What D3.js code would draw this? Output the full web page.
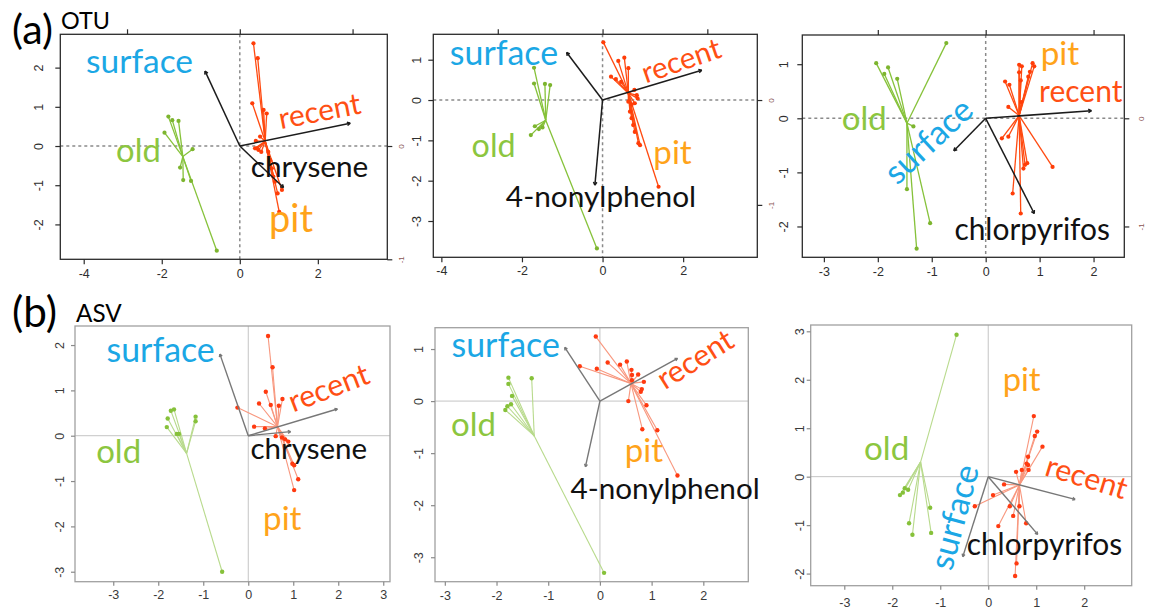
<!DOCTYPE html>
<html>
<head>
<meta charset="utf-8">
<script src="https://cdn.jsdelivr.net/npm/d3@7"></script>
<style>
  body { margin: 0; background: #fff; }
  svg { display: block; }
</style>
</head>
<body>
<svg id="chart" width="1149" height="610"></svg>
<script>
// ---------------------------------------------------------------
// Site scores, group centroids and environmental vectors
// (a) OTU ordinations
// ---------------------------------------------------------------
const otuChryseneOld = [[-1.83,0.75],[-1.73,0.66],[-1.57,0.64],[-1.93,0.34],[-1.21,-0.08],[-1.53,-0.55],[-1.45,-0.87],[-1.25,-0.89],[-0.59,-2.67]];
const otuChryseneOldCentre = [-1.46,-0.27];
const otuChryseneRecent = [[0.35,2.62],[0.46,2.24],[0.32,1.09],[0.61,0.92],[0.69,0.83],[0.41,0.13],[0.52,0.24],[0.39,-0.06],[0.44,-0.06],[0.48,-0.10],[0.55,-0.15],[0.73,-0.15],[0.78,-0.36],[0.82,-0.57],[0.86,-0.78],[0.90,-0.91],[0.97,-1.21],[1.08,-1.12],[1.01,-1.68]];
const otuChryseneRecentCentre = [0.65,0.12];
const otuChryseneVectors = [["surface",-0.89,1.91],["recent",2.83,0.58],["chrysene",1.12,-1.06]];
const otuChryseneXTicks = [-4,-2,0,2];
const otuChryseneYTicks = [-2,-1,0,1,2];

const otuNonylOld = [[-1.70,0.80],[-1.70,0.41],[-1.43,0.40],[-1.30,0.37],[-1.68,-0.65],[-1.58,-0.72],[-1.49,-0.68],[-1.78,-0.87],[-0.14,-3.68]];
const otuNonylOldCentre = [-1.41,-0.50];
const otuNonylRecent = [[0.02,1.43],[0.54,1.05],[0.39,0.97],[0.64,0.79],[0.21,0.58],[0.33,0.52],[0.46,0.45],[0.79,0.25],[0.85,0.12],[0.87,0.04],[0.80,-0.08],[0.72,-0.11],[0.64,-0.04],[0.68,-0.29],[0.72,-0.45],[0.76,-0.62],[0.80,-0.79],[0.89,-1.07],[0.93,-1.12],[1.39,-2.15]];
const otuNonylRecentCentre = [0.64,0.17];
const otuNonylVectors = [["surface",-0.89,1.18],["recent",2.46,0.74],["4-nonylphenol",-0.19,-2.11]];
const otuNonylXTicks = [-4,-2,0,2];
const otuNonylYTicks = [-3,-2,-1,0,1];

const otuChlorOld = [[-0.73,1.39],[-2.03,1.02],[-1.81,0.94],[-1.88,0.82],[-1.64,0.73],[-1.34,-0.15],[-1.46,-1.31],[-1.03,-1.94],[-1.28,-2.41]];
const otuChlorOldCentre = [-1.46,-0.09];
const otuChlorRecent = [[0.62,0.99],[0.67,0.96],[0.87,1.02],[0.90,0.96],[0.82,0.86],[0.79,0.77],[0.36,0.68],[0.44,0.62],[0.62,0.85],[0.65,0.70],[0.42,0.21],[0.66,0.30],[0.30,-0.37],[0.42,-0.34],[0.73,-0.86],[0.77,-0.83],[0.70,-0.93],[1.24,-0.90],[0.50,-1.39],[0.65,-1.76]];
const otuChlorRecentCentre = [0.62,0.05];
const otuChlorVectors = [["surface",-0.59,-0.60],["recent",1.96,0.14],["chlorpyrifos",0.90,-1.76]];
const otuChlorXTicks = [-3,-2,-1,0,1,2];
const otuChlorYTicks = [-2,-1,0,1];

// (b) ASV ordinations
const asvChryseneOld = [[-1.72,0.55],[-1.65,0.58],[-1.79,0.38],[-1.81,0.19],[-1.59,0.04],[-1.54,0.04],[-1.17,0.42],[-1.17,0.32],[-0.58,-3.00]];
const asvChryseneOldCentre = [-1.37,-0.39];
const asvChryseneRecent = [[0.44,2.20],[0.54,1.51],[0.39,0.97],[0.24,0.71],[0.50,0.68],[0.76,0.81],[0.68,0.66],[-0.24,0.62],[0.13,0.20],[0.37,0.16],[0.61,-0.01],[0.75,-0.04],[0.82,-0.08],[0.89,-0.13],[0.98,-0.62],[1.02,-0.65],[1.11,-0.96],[1.02,-1.20]];
const asvChryseneRecentCentre = [0.65,0.20];
const asvChryseneVectors = [["surface",-0.63,1.80],["recent",1.98,0.59],["chrysene",0.94,0.09]];
const asvChryseneXTicks = [-3,-2,-1,0,1,2,3];
const asvChryseneYTicks = [-3,-2,-1,0,1,2];

const asvNonylOld = [[-1.77,0.45],[-1.77,0.33],[-1.32,0.44],[-1.70,0.10],[-1.72,-0.06],[-1.79,-0.10],[-1.83,-0.17],[0.08,-3.30]];
const asvNonylOldCentre = [-1.27,-0.67];
const asvNonylRecent = [[-0.08,1.24],[0.15,0.74],[0.39,0.70],[0.52,0.76],[-0.39,0.67],[-0.06,0.62],[0.61,0.60],[0.62,0.50],[0.74,0.51],[0.62,0.40],[0.85,0.37],[0.81,0.23],[0.79,0.18],[0.55,0.00],[0.90,-0.08],[0.82,-0.54],[1.11,-0.56],[1.50,-1.43]];
const asvNonylRecentCentre = [0.60,0.34];
const asvNonylVectors = [["surface",-0.68,1.03],["recent",1.50,0.82],["4-nonylphenol",-0.28,-1.26]];
const asvNonylXTicks = [-3,-2,-1,0,1,2];
const asvNonylYTicks = [-3,-2,-1,0,1];

const asvChlorOld = [[-0.66,2.93],[-1.74,-0.24],[-1.67,-0.27],[-1.78,-0.33],[-1.84,-0.38],[-1.21,-0.64],[-1.65,-0.96],[-1.19,-1.16],[-1.58,-1.20]];
const asvChlorOldCentre = [-1.41,0.30];
const asvChlorRecent = [[0.95,1.25],[1.02,0.93],[0.97,0.84],[1.13,0.62],[0.83,0.41],[0.80,0.27],[0.83,0.24],[0.70,0.14],[0.84,0.14],[0.58,0.10],[0.33,-0.16],[0.10,-0.38],[-0.28,-0.61],[0.45,-0.61],[0.65,-0.61],[0.52,-0.81],[0.21,-1.02],[0.79,-0.96],[0.59,-1.79],[0.56,-2.05]];
const asvChlorRecentCentre = [0.65,-0.17];
const asvChlorVectors = [["surface",-0.53,-1.65],["recent",1.81,-0.47],["chlorpyrifos",1.03,-1.19]];
const asvChlorXTicks = [-3,-2,-1,0,1,2];
const asvChlorYTicks = [-2,-1,0,1,2,3];

// secondary (vector) axis ticks on the OTU panels
const vectorTopTicks = [-1,0,1];
const vectorRightTicks = [-1,0];

// ---------------------------------------------------------------
// Styling
// ---------------------------------------------------------------
const LABEL_FONT = "Lato, 'Open Sans', sans-serif";
const TICK_FONT = "'Liberation Sans', Arial, sans-serif";
const C = { surface: "#1ba7e5", old: "#8cc63f", recent: "#ff4f14", pit: "#ffa31a", ink: "#111111" };

const styleOTU = {
  frame: "#2b2b2b", frameW: 1.3, tick: 5, tickCol: "#2b2b2b", labCol: "#2e2e2e",
  cross: "#8a8a8a", crossW: 1.5, crossDash: "3,3",
  oldLine: "#86c23a", oldPt: "#7db52f", recLine: "#ff4a10", recPt: "#ff3d08",
  spiderW: 1.3, ptR: 2.1, arrow: "#1c1c1c", arrowW: 1.5, head: 3.5
};
const styleASV = {
  frame: "#a0a0a0", frameW: 1.3, tick: 4, tickCol: "#8a8a8a", labCol: "#3a3a3a",
  cross: "#c4c4c4", crossW: 1, crossDash: null,
  oldLine: "#b8da8c", oldPt: "#86c13a", recLine: "#f8977e", recPt: "#ff3a10",
  spiderW: 1.1, ptR: 2.2, arrow: "#777777", arrowW: 1.4, head: 3
};

const svg = d3.select("#chart");

// Text whose font size is chosen so that it spans a given width
function fitText(parent, str, px, py, width, angle, color, family) {
  const t = parent.append("text")
    .attr("x", 0).attr("y", 0)
    .attr("transform", `translate(${px},${py}) rotate(${angle || 0})`)
    .attr("font-family", family || LABEL_FONT)
    .attr("font-size", 30)
    .attr("fill", color)
    .text(str);
  const w = t.node().getComputedTextLength();
  t.attr("font-size", 30 * width / w);
  return t;
}

function drawArrow(g, x1, y1, x2, y2, color, w, L) {
  g.append("line").attr("x1", x1).attr("y1", y1).attr("x2", x2).attr("y2", y2)
    .attr("stroke", color).attr("stroke-width", w);
  const a = Math.atan2(y2 - y1, x2 - x1);
  [a + Math.PI * 0.84, a - Math.PI * 0.84].forEach(b => {
    g.append("line").attr("x1", x2).attr("y1", y2)
      .attr("x2", x2 + L * Math.cos(b)).attr("y2", y2 + L * Math.sin(b))
      .attr("stroke", color).attr("stroke-width", w);
  });
}

function drawPanel(p) {
  const S = p.style;
  const g = svg.append("g");
  const x = d3.scaleLinear().domain(p.xDom).range([p.box.l, p.box.r]);
  const y = d3.scaleLinear().domain(p.yDom).range([p.box.b, p.box.t]);

  const clipId = "clip-" + p.id;
  svg.append("clipPath").attr("id", clipId).append("rect")
    .attr("x", p.box.l).attr("y", p.box.t)
    .attr("width", p.box.r - p.box.l).attr("height", p.box.b - p.box.t);
  const plot = g.append("g").attr("clip-path", `url(#${clipId})`);

  // reference lines through the origin
  const hl = plot.append("line").attr("x1", p.box.l).attr("x2", p.box.r).attr("y1", y(0)).attr("y2", y(0));
  const vl = plot.append("line").attr("x1", x(0)).attr("x2", x(0)).attr("y1", p.box.t).attr("y2", p.box.b);
  [hl, vl].forEach(l => l.attr("stroke", S.cross).attr("stroke-width", S.crossW)
    .attr("stroke-dasharray", S.crossDash));

  // spiders: each site joined to its group centroid
  const groups = [
    { pts: p.old, centre: p.oldCentre, line: S.oldLine, pt: S.oldPt },
    { pts: p.recent, centre: p.recentCentre, line: S.recLine, pt: S.recPt }
  ];
  groups.forEach(grp => {
    plot.append("g").selectAll("line").data(grp.pts).join("line")
      .attr("x1", x(grp.centre[0])).attr("y1", y(grp.centre[1]))
      .attr("x2", d => x(d[0])).attr("y2", d => y(d[1]))
      .attr("stroke", grp.line).attr("stroke-width", S.spiderW);
  });
  groups.forEach(grp => {
    plot.append("g").selectAll("circle").data(grp.pts).join("circle")
      .attr("cx", d => x(d[0])).attr("cy", d => y(d[1]))
      .attr("r", S.ptR).attr("fill", grp.pt);
  });

  // environmental vectors
  const vg = plot.append("g");
  p.vectors.forEach(v => drawArrow(vg, x(0), y(0), x(v[1]), y(v[2]), S.arrow, S.arrowW, S.head));

  // frame
  g.append("rect").attr("x", p.box.l).attr("y", p.box.t)
    .attr("width", p.box.r - p.box.l).attr("height", p.box.b - p.box.t)
    .attr("fill", "none").attr("stroke", S.frame).attr("stroke-width", S.frameW);

  // bottom axis
  const ax = g.append("g").attr("transform", `translate(0,${p.box.b})`)
    .call(d3.axisBottom(x).tickValues(p.xTicks).tickFormat(d => String(d))
      .tickSize(S.tick).tickSizeOuter(0));
  ax.select(".domain").remove();
  ax.attr("font-family", TICK_FONT).attr("font-size", 12.5);
  ax.selectAll("line").attr("stroke", S.tickCol).attr("stroke-width", 1.2);
  ax.selectAll("text").attr("y", p.xLabOff).attr("dy", "0.35em").attr("fill", S.labCol);

  // left axis
  const ay = g.append("g").attr("transform", `translate(${p.box.l},0)`)
    .call(d3.axisLeft(y).tickValues(p.yTicks).tickFormat(d => String(d))
      .tickSize(S.tick).tickSizeOuter(0));
  ay.select(".domain").remove();
  ay.attr("font-family", TICK_FONT).attr("font-size", 12.5);
  ay.selectAll("line").attr("stroke", S.tickCol).attr("stroke-width", 1.2);
  ay.selectAll("text").attr("x", 0).attr("dy", "0.35em").attr("text-anchor", "middle")
    .attr("transform", `translate(${-p.yLabOff},0) rotate(-90)`).attr("fill", S.labCol);

  // vector scale axes (top and right)
  if (p.vecScale) {
    const sx = d3.scaleLinear().domain(p.xDom.map(v => v / p.vecScale)).range([p.box.l, p.box.r]);
    const sy = d3.scaleLinear().domain(p.yDom.map(v => v / p.vecScale)).range([p.box.b, p.box.t]);
    const at = g.append("g").attr("transform", `translate(0,${p.box.t})`)
      .call(d3.axisTop(sx).tickValues(vectorTopTicks).tickFormat("").tickSize(S.tick).tickSizeOuter(0));
    at.select(".domain").remove();
    at.selectAll("line").attr("stroke", S.tickCol).attr("stroke-width", 1.2);
    const ar = g.append("g").attr("transform", `translate(${p.box.r},0)`)
      .call(d3.axisRight(sy).tickValues(vectorRightTicks).tickFormat(d => String(d))
        .tickSize(S.tick).tickSizeOuter(0));
    ar.select(".domain").remove();
    ar.attr("font-family", TICK_FONT).attr("font-size", 8);
    ar.selectAll("line").attr("stroke", S.tickCol).attr("stroke-width", 1.2);
    ar.selectAll("text").attr("x", 0).attr("dy", "0.35em").attr("text-anchor", "middle")
      .attr("transform", `translate(${p.rightLabOff},0) rotate(-90)`).attr("fill", "#8a5555");
  }

  // group and compound labels
  p.labels.forEach(l => {
    fitText(g, l.text, x(l.at[0]), y(l.at[1]), l.w, l.angle, l.color);
  });
}

const panels = [
  { id: "a1", style: styleOTU, box: { l: 60.3, r: 387.3, t: 34.3, b: 259.3 },
    xDom: [-4.6, 3.78], yDom: [-2.89, 2.85], xTicks: otuChryseneXTicks, yTicks: otuChryseneYTicks,
    old: otuChryseneOld, oldCentre: otuChryseneOldCentre, recent: otuChryseneRecent, recentCentre: otuChryseneRecentCentre,
    vectors: otuChryseneVectors, vecScale: 2.89, xLabOff: 14, yLabOff: 22, rightLabOff: 14,
    labels: [
      { text: "surface", at: [-3.94, 1.85], w: 107, color: C.surface },
      { text: "old", at: [-3.17, -0.40], w: 44.7, color: C.old },
      { text: "recent", at: [1.05, 0.43], w: 83, angle: -11, color: C.recent },
      { text: "chrysene", at: [0.28, -0.78], w: 117.6, color: C.ink },
      { text: "pit", at: [0.75, -2.19], w: 44, color: C.pit }
    ] },
  { id: "a2", style: styleOTU, box: { l: 433.3, r: 757.3, t: 34.3, b: 257.3 },
    xDom: [-4.2, 3.84], yDom: [-3.9, 1.63], xTicks: otuNonylXTicks, yTicks: otuNonylYTicks,
    old: otuNonylOld, oldCentre: otuNonylOldCentre, recent: otuNonylRecent, recentCentre: otuNonylRecentCentre,
    vectors: otuNonylVectors, vecScale: 2.6, xLabOff: 13, yLabOff: 17, rightLabOff: 14,
    labels: [
      { text: "surface", at: [-3.79, 0.87], w: 108.3, color: C.surface },
      { text: "old", at: [-3.25, -1.42], w: 44, color: C.old },
      { text: "recent", at: [1.07, 0.41], w: 82, angle: -19, color: C.recent },
      { text: "pit", at: [1.26, -1.59], w: 38.4, color: C.pit },
      { text: "4-nonylphenol", at: [-2.40, -2.65], w: 190.3, color: C.ink }
    ] },
  { id: "a3", style: styleOTU, box: { l: 802.3, r: 1124.3, t: 35, b: 257.3 },
    xDom: [-3.4, 2.57], yDom: [-2.57, 1.54], xTicks: otuChlorXTicks, yTicks: otuChlorYTicks,
    old: otuChlorOld, oldCentre: otuChlorOldCentre, recent: otuChlorRecent, recentCentre: otuChlorRecentCentre,
    vectors: otuChlorVectors, vecScale: 2.0, xLabOff: 14.4, yLabOff: 19, rightLabOff: 17,
    labels: [
      { text: "pit", at: [1.02, 0.99], w: 38.6, color: C.pit },
      { text: "recent", at: [0.99, 0.31], w: 83.4, color: C.recent },
      { text: "old", at: [-2.67, -0.22], w: 45, color: C.old },
      { text: "surface", at: [-1.64, -1.25], w: 107, angle: -43, color: C.surface },
      { text: "chlorpyrifos", at: [-0.58, -2.25], w: 155.7, color: C.ink }
    ] },
  { id: "b1", style: styleASV, box: { l: 75, r: 390, t: 326, b: 581.7 },
    xDom: [-3.85, 3.15], yDom: [-3.22, 2.42], xTicks: asvChryseneXTicks, yTicks: asvChryseneYTicks,
    old: asvChryseneOld, oldCentre: asvChryseneOldCentre, recent: asvChryseneRecent, recentCentre: asvChryseneRecentCentre,
    vectors: asvChryseneVectors, xLabOff: 13.3, yLabOff: 15,
    labels: [
      { text: "surface", at: [-3.15, 1.63], w: 108.3, color: C.surface },
      { text: "old", at: [-3.38, -0.61], w: 45, color: C.old },
      { text: "recent", at: [1.0, 0.51], w: 84, angle: -21, color: C.recent },
      { text: "chrysene", at: [0.05, -0.52], w: 116.7, color: C.ink },
      { text: "pit", at: [0.33, -2.08], w: 38.4, color: C.pit }
    ] },
  { id: "b2", style: styleASV, box: { l: 435, r: 748.3, t: 327.7, b: 581.7 },
    xDom: [-3.19, 2.87], yDom: [-3.47, 1.41], xTicks: asvNonylXTicks, yTicks: asvNonylYTicks,
    old: asvNonylOld, oldCentre: asvNonylOldCentre, recent: asvNonylRecent, recentCentre: asvNonylRecentCentre,
    vectors: asvNonylVectors, xLabOff: 14.3, yLabOff: 16,
    labels: [
      { text: "surface", at: [-2.87, 0.84], w: 108.3, color: C.surface },
      { text: "old", at: [-2.88, -0.67], w: 45, color: C.old },
      { text: "recent", at: [1.26, 0.21], w: 84, angle: -32, color: C.recent },
      { text: "pit", at: [0.48, -1.17], w: 38.3, color: C.pit },
      { text: "4-nonylphenol", at: [-0.57, -1.88], w: 189.3, color: C.ink }
    ] },
  { id: "b3", style: styleASV, box: { l: 810.7, r: 1131.7, t: 325, b: 585.7 },
    xDom: [-3.7, 2.99], yDom: [-2.25, 3.13], xTicks: asvChlorXTicks, yTicks: asvChlorYTicks,
    old: asvChlorOld, oldCentre: asvChlorOldCentre, recent: asvChlorRecent, recentCentre: asvChlorRecentCentre,
    vectors: asvChlorVectors, xLabOff: 16.5, yLabOff: 11,
    labels: [
      { text: "pit", at: [0.30, 1.76], w: 38, color: C.pit },
      { text: "old", at: [-2.59, 0.35], w: 45.3, color: C.old },
      { text: "recent", at: [1.15, 0.035], w: 84, angle: 17, color: C.recent },
      { text: "surface", at: [-0.76, -1.96], w: 107, angle: -75, color: C.surface },
      { text: "chlorpyrifos", at: [-0.45, -1.62], w: 155.7, color: C.ink }
    ] }
];

panels.forEach(drawPanel);

// row captions
fitText(svg, "(a)", 12, 44, 41, 0, "#000");
fitText(svg, "OTU", 61, 29.3, 49, 0, "#000");
fitText(svg, "(b)", 12, 327, 45, 0, "#000");
fitText(svg, "ASV", 76, 321.7, 45.7, 0, "#000");
</script>
</body>
</html>
